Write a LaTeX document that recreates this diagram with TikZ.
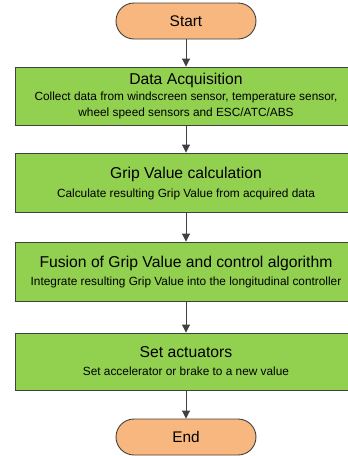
\documentclass[tikz,border=0pt]{standalone}
\usepackage{fontspec}
\setmainfont{Liberation Sans}
\usetikzlibrary{arrows.meta}
\definecolor{boxgreen}{HTML}{92D050}
\definecolor{pillorange}{HTML}{F8B77E}
\definecolor{edgegray}{HTML}{404040}
\tikzset{
  pill/.style={draw=edgegray, line width=0.9pt, fill=pillorange, rounded corners=18pt,
    minimum width=140pt, minimum height=36pt, inner sep=0pt},
  pilltext/.style={inner sep=0pt, anchor=base, font=\fontsize{15.4}{18}\selectfont},
  stepbox/.style={draw=edgegray, line width=0.9pt, fill=boxgreen, minimum width=342pt, inner sep=0pt},
  titletext/.style={inner sep=0pt, anchor=base, font=\fontsize{15.7}{18}\selectfont},
  subtext/.style={inner sep=0pt, anchor=base, font=\fontsize{11.85}{14}\selectfont},
  flow/.style={draw=edgegray, line width=0.9pt, -{Triangle[width=8pt,length=8pt]}}
}
\begin{document}
\begin{tikzpicture}[x=1pt,y=-1pt]
\useasboundingbox (0,0) rectangle (348,456);
\begin{scope}
\clip (0,0) rectangle (348,456);
\node[pill] (start) at (186,21) {};
\node[stepbox, minimum height=58pt] (b1) at (186,96) {};
\node[stepbox, minimum height=59pt] (b2) at (186,182.5) {};
\node[stepbox, minimum height=59pt] (b3) at (186,271.5) {};
\node[stepbox, minimum height=57pt] (b4) at (186,361.5) {};
\node[pill] (end) at (186,437) {};
\end{scope}
\node[pilltext] (startlabel) at (186,26.5) {Start};
\node[pilltext] (endlabel) at (186,442.5) {End};
\node[titletext] (t1) at (186,84.7) {Data Acquisition};
\node[subtext] (s1a) at (186,100.5) {Collect data from windscreen sensor, temperature sensor,};
\node[subtext] (s1b) at (186,116.5) {wheel speed sensors and ESC/ATC/ABS};
\node[titletext] (t2) at (186,178.3) {Grip Value calculation};
\node[subtext] (s2) at (186,197.5) {Calculate resulting Grip Value from acquired data};
\node[titletext] (t3) at (186,267.3) {Fusion of Grip Value and control algorithm};
\node[subtext] (s3) at (186,285.5) {Integrate resulting Grip Value into the longitudinal controller};
\node[titletext] (t4) at (186,357.3) {Set actuators};
\node[subtext] (s4) at (186,375.7) {Set accelerator or brake to a new value};
\draw[flow] (start.south) -- (b1.north);
\draw[flow] (b1.south) -- (b2.north);
\draw[flow] (b2.south) -- (b3.north);
\draw[flow] (b3.south) -- (b4.north);
\draw[flow] (b4.south) -- (end.north);
\end{tikzpicture}
\end{document}
